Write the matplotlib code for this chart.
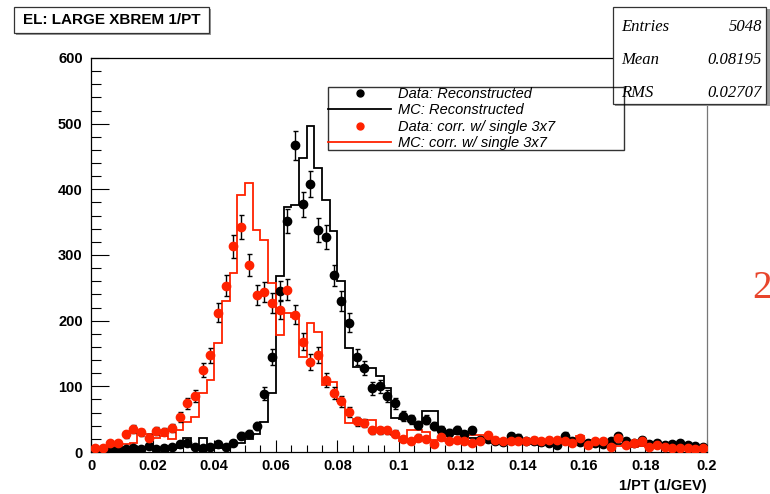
import numpy as np
import matplotlib
matplotlib.use("Agg")
import matplotlib.pyplot as plt
from matplotlib.patches import Rectangle
from matplotlib.lines import Line2D
from matplotlib.ticker import MultipleLocator, FuncFormatter

# 80 bins of 0.0025 between 0 and 0.2
edges = np.linspace(0.0, 0.2, 81)
centers = 0.5 * (edges[:-1] + edges[1:])

data_reco = [4, 3, 3, 4, 5, 6, 5, 9, 5, 6, 7, 12, 13, 8, 6, 7, 12, 8, 14, 25,
             28, 40, 89, 145, 245, 352, 467, 377, 408, 338, 328, 269, 230, 197, 145, 128, 97, 100, 85, 74,
             55, 50, 41, 49, 39, 34, 29, 34, 27, 33, 18, 20, 17, 15, 24, 22, 17, 16, 15, 13,
             11, 25, 17, 15, 14, 13, 12, 16, 24, 17, 14, 18, 12, 14, 10, 12, 14, 11, 9, 7]

mc_reco = [3, 4, 3, 5, 4, 5, 6, 5, 4, 6, 5, 6, 22, 8, 21, 8, 6, 7, 12, 14,
           20, 28, 45, 90, 268, 373, 376, 447, 497, 432, 383, 337, 260, 158, 130, 130, 128, 115, 98, 52,
           50, 50, 44, 63, 63, 35, 30, 28, 25, 22, 20, 19, 18, 17, 18, 16, 14, 12, 10, 14,
           12, 12, 15, 12, 10, 11, 12, 10, 12, 11, 10, 9, 10, 9, 8, 7, 8, 7, 6, 5]

data_corr = [6, 6, 13, 13, 27, 35, 30, 22, 32, 31, 37, 53, 74, 85, 125, 147, 212, 253, 313, 343,
             285, 239, 244, 227, 217, 247, 209, 168, 137, 148, 110, 90, 77, 61, 47, 44, 33, 33, 33, 28,
             20, 16, 22, 20, 12, 23, 16, 18, 16, 14, 16, 26, 19, 16, 16, 16, 17, 19, 16, 19,
             18, 16, 14, 21, 11, 16, 17, 8, 21, 11, 14, 16, 8, 11, 7, 6, 6, 6, 4, 6]

mc_corr = [4, 5, 6, 8, 12, 14, 30, 28, 22, 24, 20, 33, 46, 54, 90, 110, 166, 230, 272, 391,
           410, 338, 323, 257, 178, 211, 205, 145, 196, 183, 102, 107, 77, 44, 51, 49, 49, 31, 31, 26,
           16, 33, 33, 31, 18, 23, 16, 15, 14, 26, 26, 20, 16, 14, 12, 16, 14, 12, 14, 12,
           15, 14, 12, 24, 14, 12, 10, 11, 9, 10, 8, 9, 7, 8, 6, 6, 5, 5, 4, 5]

labels = ["Data: Reconstructed", "MC: Reconstructed",
          "Data: corr. w/ single 3x7", "MC: corr. w/ single 3x7"]
stats = [("Entries", "5048"), ("Mean", "0.08195"), ("RMS", "0.02707")]

RED = "#ff2200"
W, H = 770, 494


def fx(px):
    return px / W


def fy(py):
    return 1 - py / H


fig = plt.figure(figsize=(7.7, 4.94), dpi=100)
ax = fig.add_axes([fx(91), fy(452), fx(707) - fx(91), fy(58) - fy(452)])

ax.stairs(mc_reco, edges, color="black", lw=1.3, zorder=2)
ax.stairs(mc_corr, edges, color=RED, lw=1.3, zorder=2)
d1 = np.array(data_reco, dtype=float)
d2 = np.array(data_corr, dtype=float)
ax.errorbar(centers, d1, yerr=np.sqrt(d1), fmt="o", color="black", ms=6,
            ecolor="black", elinewidth=1, capsize=1.8, capthick=1, zorder=3)
ax.errorbar(centers, d2, yerr=np.sqrt(d2), fmt="o", color=RED, ms=6,
            ecolor="black", elinewidth=1, capsize=1.8, capthick=1, zorder=4)

ax.set_xlim(0, 0.2)
ax.set_ylim(0, 600)
ax.xaxis.set_major_locator(MultipleLocator(0.02))
ax.xaxis.set_minor_locator(MultipleLocator(0.005))
ax.xaxis.set_major_formatter(FuncFormatter(lambda v, p: "%g" % round(v, 3)))
ax.yaxis.set_major_locator(MultipleLocator(100))
ax.yaxis.set_minor_locator(MultipleLocator(20))
ax.tick_params(axis="x", which="major", direction="in", length=9, width=0.8, pad=5)
ax.tick_params(axis="x", which="minor", direction="in", length=5, width=0.8)
ax.tick_params(axis="y", which="major", direction="in", length=13, width=0.8, pad=6)
ax.tick_params(axis="y", which="minor", direction="in", length=7, width=0.8)
for lab in ax.get_xticklabels() + ax.get_yticklabels():
    lab.set_fontfamily("Liberation Sans")
    lab.set_fontweight("bold")
    lab.set_fontsize(10.5)
for s in ax.spines.values():
    s.set_linewidth(0.9)
ax.spines["right"].set_color("#777777")

fig.text(fx(707), fy(486), "1/PT (1/GEV)", ha="right", va="center",
         family="Liberation Sans", weight="bold", fontsize=10.5)

# title box
fig.patches.append(Rectangle((fx(16), fy(35)), fx(195), fy(9) - fy(35),
                             transform=fig.transFigure, facecolor="#999999", lw=0))
fig.patches.append(Rectangle((fx(14), fy(33)), fx(195), fy(7) - fy(33),
                             transform=fig.transFigure, facecolor="white",
                             edgecolor="#333333", lw=0.9))
fig.text(fx(112), fy(20), "EL: LARGE XBREM 1/PT", ha="center", va="center",
         family="Liberation Sans", weight="bold", fontsize=11)

# stats box
fig.patches.append(Rectangle((fx(615), fy(106)), fx(155), fy(9) - fy(106),
                             transform=fig.transFigure, facecolor="#999999", lw=0))
fig.patches.append(Rectangle((fx(613), fy(104)), fx(153), fy(7) - fy(104),
                             transform=fig.transFigure, facecolor="white",
                             edgecolor="#333333", lw=0.9))
for i, (k, v) in enumerate(stats):
    yy = fy(27 + 33 * i)
    fig.text(fx(621), yy, k, ha="left", va="center", family="Liberation Serif",
             style="italic", fontsize=12)
    fig.text(fx(762), yy, v, ha="right", va="center", family="Liberation Serif",
             style="italic", fontsize=12)

# legend
handles = [Line2D([], [], ls="none", marker="o", color="black", ms=5),
           Line2D([], [], color="black", lw=1.3),
           Line2D([], [], ls="none", marker="o", color=RED, ms=5),
           Line2D([], [], color=RED, lw=1.3)]
leg = fig.legend(handles, labels, loc="upper left",
                 bbox_to_anchor=(fx(321), fy(154), fx(310), fy(80) - fy(154)),
                 mode="expand", frameon=True, fancybox=False, handlelength=4.3,
                 handletextpad=0.5, borderpad=0.0, labelspacing=0.15,
                 prop={"family": "Liberation Sans", "style": "italic", "size": 10.5})
leg.get_frame().set_edgecolor("black")
leg.get_frame().set_linewidth(1.0)
leg.get_frame().set_facecolor("none")

fig.text(fx(752), fy(288), "2", ha="left", va="center", color="#e8452c",
         family="Liberation Serif", fontsize=28)

fig.savefig("out.png", dpi=100)
